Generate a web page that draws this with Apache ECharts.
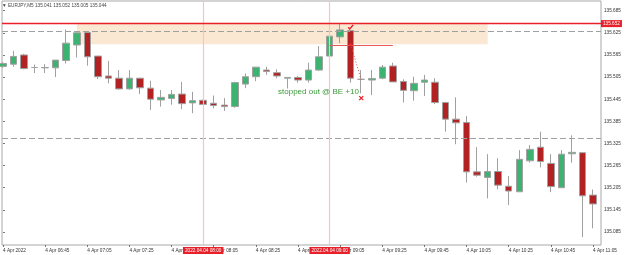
<!DOCTYPE html>
<html>
<head>
<meta charset="utf-8">
<script src="https://cdn.jsdelivr.net/npm/echarts@6/dist/echarts.min.js"></script>
<style>
  html, body { margin: 0; padding: 0; background: #fff; }
  #chart { width: 625px; height: 255px; }
</style>
</head>
<body>
<div id="chart"></div>
<script>
// EURJPY M5, 4 Apr 2022, bars 06:25 .. 11:05 (index 0 .. 56)
var open = [135.534, 135.540, 135.565, 135.531, 135.530, 135.530, 135.550, 135.592, 135.626, 135.562,
            135.508, 135.502, 135.473, 135.502, 135.475, 135.443, 135.447, 135.459, 135.435, 135.442,
            135.434, 135.429, 135.425, 135.486, 135.506, 135.524, 135.517, 135.502, 135.504, 135.497,
            135.524, 135.562, 135.614, 135.631, 135.499, 135.497, 135.502, 135.535, 135.493, 135.468,
            135.491, 135.491, 135.436, 135.391, 135.382, 135.248, 135.233, 135.249, 135.209, 135.194,
            135.278, 135.315, 135.271, 135.205, 135.297, 135.300, 135.185];
var close = [135.542, 135.561, 135.528, 135.531, 135.531, 135.551, 135.597, 135.625, 135.560, 135.506,
             135.502, 135.473, 135.502, 135.476, 135.445, 135.450, 135.458, 135.433, 135.441, 135.431,
             135.428, 135.425, 135.490, 135.506, 135.532, 135.520, 135.508, 135.504, 135.497, 135.524,
             135.560, 135.616, 135.633, 135.502, 135.499, 135.501, 135.532, 135.492, 135.469, 135.488,
             135.497, 135.436, 135.391, 135.381, 135.248, 135.239, 135.249, 135.212, 135.196, 135.282,
             135.309, 135.276, 135.208, 135.296, 135.301, 135.183, 135.161];
var low = [135.530, 135.533, 135.526, 135.516, 135.516, 135.505, 135.542, 135.558, 135.536, 135.500,
           135.488, 135.471, 135.471, 135.459, 135.416, 135.425, 135.430, 135.418, 135.407, 135.429,
           135.420, 135.413, 135.422, 135.475, 135.494, 135.511, 135.502, 135.474, 135.490, 135.490,
           135.522, 135.560, 135.597, 135.490, 135.461, 135.456, 135.499, 135.492, 135.436, 135.441,
           135.454, 135.432, 135.357, 135.323, 135.219, 135.235, 135.176, 135.201, 135.158, 135.194,
           135.273, 135.260, 135.193, 135.205, 135.273, 135.071, 135.095];
var high = [135.546, 135.576, 135.568, 135.539, 135.540, 135.551, 135.634, 135.626, 135.627, 135.562,
            135.549, 135.524, 135.524, 135.503, 135.495, 135.470, 135.470, 135.492, 135.465, 135.444,
            135.455, 135.448, 135.492, 135.515, 135.532, 135.533, 135.526, 135.504, 135.508, 135.544,
            135.589, 135.619, 135.651, 135.633, 135.524, 135.524, 135.538, 135.544, 135.499, 135.506,
            135.511, 135.502, 135.436, 135.450, 135.399, 135.315, 135.296, 135.285, 135.237, 135.307,
            135.321, 135.357, 135.296, 135.307, 135.347, 135.301, 135.200];

// time axis labels (every 4th bar)
var tickIndex = [0, 4, 8, 12, 16, 20, 24, 28, 32, 36, 40, 44, 48, 52, 56];
var tickLabels = ['4 Apr 2022', '4 Apr 06:45', '4 Apr 07:05', '4 Apr 07:25', '4 Apr 07:45',
                  '4 Apr 08:05', '4 Apr 08:25', '4 Apr 08:45', '4 Apr 09:05', '4 Apr 09:25',
                  '4 Apr 09:45', '4 Apr 10:05', '4 Apr 10:25', '4 Apr 10:45', '4 Apr 11:05'];
var priceTicks = [135.085, 135.145, 135.205, 135.265, 135.325, 135.385, 135.445, 135.505, 135.565, 135.625, 135.685];

// chart objects
var bidLine = 135.652;
var dashLevels = [135.635, 135.340];
var zoneBars = [7, 46];
var zonePrices = [135.652, 135.594];
var vLineBars = [19, 31];
var vLineLabels = ['2022.04.04 08:00', '2022.04.04 09:00'];
var entryLine = [[31, 135.592], [37, 135.592]];
var tradeLine = [[33, 135.594], [34, 135.497]];
var entryPoint = [33, 135.594];
var openArrow = [33, 135.641];
var closeCross = [34, 135.448];
var noteText = 'stopped out @ BE +10';
var notePos = [29.94, 135.465];

var FONT = 'Liberation Sans, DejaVu Sans, sans-serif';
var RED = '#e8202a';

var candles = open.map(function (o, i) {
  return [i, o, close[i], low[i], high[i]];
});

var myChart = echarts.init(document.getElementById('chart'));
myChart.setOption({
  animation: false,
  title: {
    text: '\u25BC EURJPY,M5 135.041 135.052 135.005 135.044',
    left: 2, top: 3, padding: 0,
    textStyle: { fontSize: 4.7, fontWeight: 'normal', color: '#444', fontFamily: FONT }
  },
  grid: {
    left: 1, right: 24, top: 1, bottom: 10,
    show: true, borderColor: '#a8a8a8', borderWidth: 1
  },
  xAxis: {
    type: 'value',
    min: -0.0948, max: 56.756,
    axisLine: { show: false },
    splitLine: { show: false },
    axisTick: { show: true, length: 2, customValues: tickIndex, lineStyle: { color: '#777' } },
    axisLabel: {
      customValues: tickIndex,
      formatter: function (v) { return tickLabels[tickIndex.indexOf(Math.round(v))]; },
      align: 'left', margin: 3, fontSize: 4.7, color: '#333', fontFamily: FONT
    }
  },
  yAxis: {
    type: 'value',
    position: 'right',
    min: 135.0497, max: 135.7113,
    axisLine: { show: false },
    splitLine: { show: false },
    axisTick: { show: true, length: 2, customValues: priceTicks, lineStyle: { color: '#777' } },
    axisLabel: {
      customValues: priceTicks,
      formatter: function (v) { return v.toFixed(3); },
      margin: 3, fontSize: 4.7, color: '#333', fontFamily: FONT
    }
  },
  series: [
    {
      // background objects: zone, levels, vertical lines
      type: 'line',
      data: [],
      z: 1,
      silent: true,
      markArea: {
        silent: true,
        itemStyle: { color: '#fbe8d2' },
        data: [[{ coord: [zoneBars[0], zonePrices[0]] }, { coord: [zoneBars[1], zonePrices[1]] }]]
      },
      markLine: {
        silent: true,
        symbol: 'none',
        animation: false,
        data: dashLevels.map(function (v) {
          return { yAxis: v, lineStyle: { color: '#a0a0a0', type: [6, 3], width: 1 }, label: { show: false } };
        }).concat(vLineBars.map(function (b, k) {
          return {
            xAxis: b,
            lineStyle: { color: '#f7c3c3', type: 'solid', width: 1.2 },
            label: {
              show: true, position: 'start', distance: 2,
              formatter: vLineLabels[k],
              backgroundColor: RED, color: '#fff', padding: [1, 2],
              fontSize: 4.7, fontFamily: FONT
            }
          };
        }))
      }
    },
    {
      type: 'candlestick',
      z: 3,
      barWidth: 7,
      encode: { x: 0, y: [1, 2, 3, 4] },
      data: candles,
      itemStyle: {
        color: '#3cb371',
        color0: '#b22222',
        borderColor: '#a0a0a0',
        borderColor0: '#a0a0a0',
        borderWidth: 1
      }
    },
    {
      // foreground objects: bid line, trade marks, note
      type: 'line',
      data: [],
      z: 5,
      color: RED,
      silent: true,
      markLine: {
        silent: true,
        symbol: 'none',
        animation: false,
        lineStyle: { color: RED, type: 'solid', width: 1.2 },
        label: { show: false },
        data: [
          {
            yAxis: bidLine,
            lineStyle: { color: RED, type: 'solid', width: 1.3 },
            label: {
              show: true, position: 'end', distance: 0,
              formatter: bidLine.toFixed(3),
              backgroundColor: RED, color: '#fff', padding: [1, 2],
              fontSize: 4.7, fontFamily: FONT
            }
          },
          [{ coord: entryLine[0], lineStyle: { color: '#e65a5a', type: 'solid', width: 1 } },
           { coord: entryLine[1] }],
          [{ coord: tradeLine[0], lineStyle: { color: '#e04040', type: [1, 2], width: 1 } },
           { coord: tradeLine[1] }]
        ]
      },
      markPoint: {
        silent: true,
        animation: false,
        data: [
          {
            coord: entryPoint, symbol: 'circle', symbolSize: 3,
            itemStyle: { color: RED }, label: { show: false }
          },
          {
            coord: openArrow, symbol: 'path://M0,6L3,10L10,0', symbolSize: [5, 4],
            itemStyle: { color: 'none', borderColor: RED, borderWidth: 1.3 }, label: { show: false }
          },
          {
            coord: closeCross, symbol: 'path://M0,0L10,10M10,0L0,10', symbolSize: 4,
            itemStyle: { color: 'none', borderColor: RED, borderWidth: 1.3 }, label: { show: false }
          },
          {
            coord: notePos, symbol: 'circle', symbolSize: 1,
            itemStyle: { color: 'rgba(0,0,0,0)' },
            label: {
              show: true, position: 'inside', formatter: noteText,
              color: '#3c9a3c', fontSize: 8, fontFamily: FONT
            }
          }
        ]
      }
    }
  ]
});
</script>
</body>
</html>
